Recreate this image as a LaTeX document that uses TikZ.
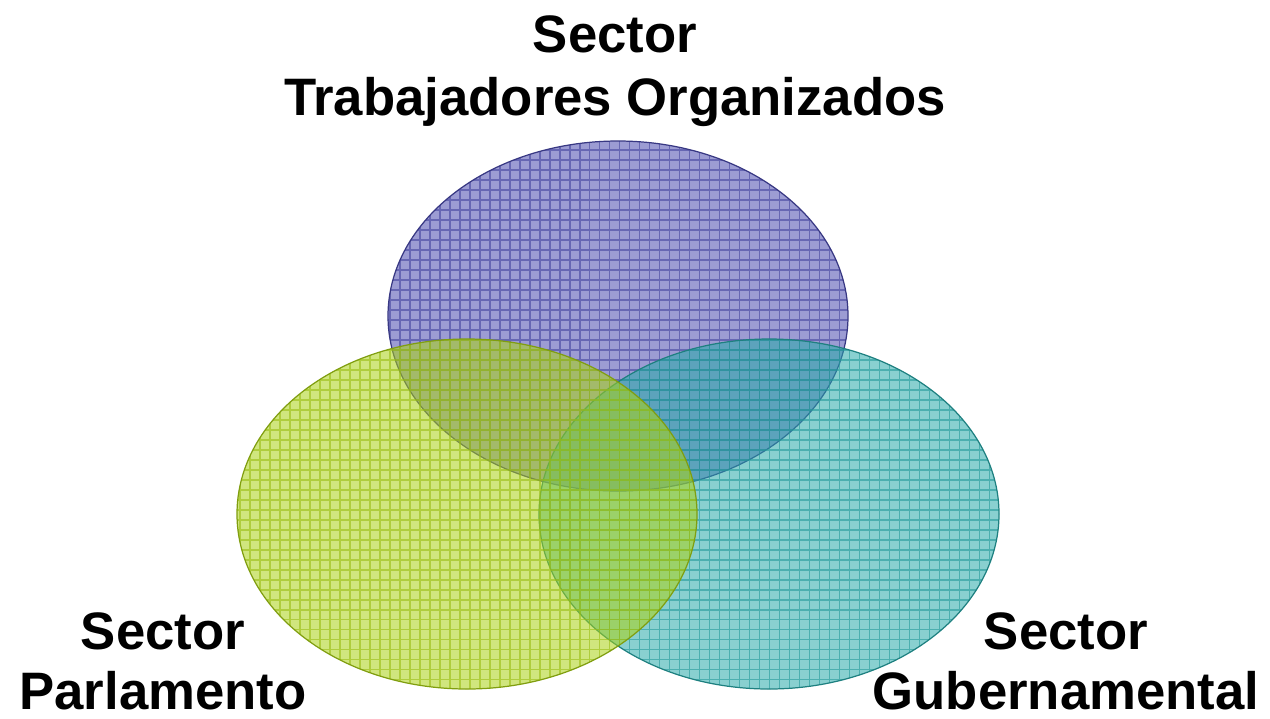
\documentclass[tikz,border=0pt]{standalone}
\usepackage{fontspec}
\setmainfont{Liberation Sans}
\definecolor{morado}{RGB}{75,75,175}
\definecolor{verde}{RGB}{170,210,20}
\definecolor{turquesa}{RGB}{40,170,170}
\begin{document}
\begin{tikzpicture}[x=0.02cm,y=-0.02cm,
	etiqueta/.style={font=\bfseries\fontsize{30}{35.5}\selectfont,
	align=center,anchor=base,inner sep=0}]
\useasboundingbox (0,0) rectangle (1270,718);
% los tres sectores
\foreach \cx/\cy/\c in {618/316/morado,769/514/turquesa,467/514/verde}{
	\fill[\c,opacity=.55] (\cx,\cy) ellipse [x radius=230,y radius=175];
	\begin{scope}
	\clip (\cx,\cy) ellipse [x radius=230,y radius=175];
	\draw[\c!90!black,opacity=.6,line width=.7pt,step=0.2cm] (0,718) grid (1270,0);
	\end{scope}
	\draw[\c!75!black,line width=.7pt] (\cx,\cy) ellipse [x radius=230,y radius=175];
}
\node[etiqueta] (trab) at (615,115) {Sector\\Trabajadores Organizados};
\node[etiqueta,font=\bfseries\fontsize{30}{34}\selectfont] (parl) at (163,709) {Sector\\Parlamento};
\node[etiqueta,font=\bfseries\fontsize{30}{34}\selectfont] (gub) at (1066,709) {Sector\\Gubernamental};
\end{tikzpicture}
\end{document}
